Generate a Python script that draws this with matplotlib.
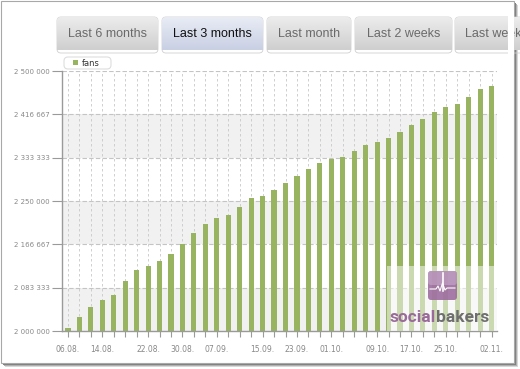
import matplotlib.pyplot as plt
import numpy as np
from matplotlib.patches import FancyBboxPatch, Rectangle

# fans per snapshot
fans = [
    2006300, 2027500, 2046700, 2060200, 2069800, 2095600, 2117300, 2125000,
    2134000, 2147500, 2166700, 2187900, 2205800, 2217300, 2223600, 2239000,
    2255200, 2260200, 2271100, 2285200, 2298100, 2311000, 2322500, 2331300,
    2334000, 2346700, 2358300, 2362900, 2371100, 2383300, 2396100, 2407700,
    2421700, 2430200, 2435900, 2449400, 2464800, 2471100,
]
label_idx = [0, 3, 7, 10, 13, 17, 20, 23, 27, 30, 33, 37]
label_text = ['06.08.', '14.08.', '22.08.', '30.08.', '07.09.', '15.09.',
              '23.09.', '01.10.', '09.10.', '17.10.', '25.10.', '02.11.']
y_ticks = [2000000, 2083333, 2166667, 2250000, 2333333, 2416667, 2500000]
tab_names = ['Last 6 months', 'Last 3 months', 'Last month', 'Last 2 weeks', 'Last week']
tab_x = [(57, 158), (162, 263), (267, 351), (355, 452), (455, 530)]
selected_tab = 1

W, H = 520, 369
fig = plt.figure(figsize=(W / 100, H / 100), dpi=100)
fig.patch.set_facecolor('white')

# background layer in pixel coordinates
bg = fig.add_axes([0, 0, 1, 1])
bg.set_xlim(0, W)
bg.set_ylim(H, 0)
bg.axis('off')

# screenshot frame with a drop shadow
for off, col in [(4, '#d8d8d8'), (3, '#b0b0b0'), (2, '#808080')]:
    bg.add_patch(Rectangle((1 + off, 1 + off), 513, 362, fc=col, ec='none'))
bg.add_patch(Rectangle((1, 1), 513, 362, fc='white', ec='#a8a8a8', lw=0.8))

# tabs
for i, (name, (x0, x1)) in enumerate(zip(tab_names, tab_x)):
    sel = i == selected_tab
    top, bot = ('#e9ecf5', '#c9d0e4') if sel else ('#ececec', '#cfcfcf')
    patch = FancyBboxPatch((x0, 17), x1 - x0, 36, boxstyle='round,pad=0,rounding_size=4',
                           fc='none', ec='#d0d0d0', lw=0.6)
    bg.add_patch(patch)
    c0 = np.array(plt.matplotlib.colors.to_rgb(top))
    c1 = np.array(plt.matplotlib.colors.to_rgb(bot))
    t = np.linspace(0, 1, 40)[:, None]
    grad = (c0 * (1 - t) + c1 * t)[:, None, :]
    im = bg.imshow(grad, extent=(x0, x1, 50, 17), aspect='auto', zorder=1)
    im.set_clip_path(patch)
    bg.text((x0 + x1) / 2 if i < 4 else x0 + 10, 34, name,
            ha='center' if i < 4 else 'left', va='center',
            fontsize=9, family='Liberation Sans',
            color='#111111' if sel else '#6a6a6a', zorder=3)
# clip the last tab at the panel edge
bg.add_patch(Rectangle((508, 10), 5.5, 45, fc='white', ec='none', zorder=4))

# legend
bg.add_patch(FancyBboxPatch((64, 57), 47, 12, boxstyle='round,pad=0,rounding_size=4',
                            fc='white', ec='#dddddd', lw=0.8, zorder=3))
bg.add_patch(Rectangle((73, 60), 5, 5, fc='#98b461', ec='none', zorder=4))
bg.text(82, 63, 'fans', fontsize=6, color='#333333', va='center', ha='left', zorder=4)

# chart
ax = fig.add_axes([62 / W, 38 / H, 435 / W, 260 / H])
ax.set_facecolor('none')
x = np.arange(len(fans))
for lo, hi in zip(y_ticks[0::2], y_ticks[1::2]):
    ax.axhspan(lo, hi, color='#f1f1f1', zorder=0, lw=0)
for v in y_ticks[1:]:
    ax.axhline(v, color='#c4c4c4', lw=0.8, dashes=(4, 2), zorder=1)
for xi in x:
    ax.axvline(xi, color='#c8c8c8', lw=0.6, dashes=(3, 3), zorder=1)
ax.bar(x, fans, width=0.45, color='#98b461', zorder=2)
ax.set_xlim(-0.52, len(fans) - 0.53)
ax.set_ylim(y_ticks[0], y_ticks[-1])
ax.set_yticks(y_ticks)
ax.set_yticklabels([f'{v:,}'.replace(',', ' ') for v in y_ticks])
labels = [''] * len(fans)
for i, t in zip(label_idx, label_text):
    labels[i] = t
ax.set_xticks(x)
ax.set_xticklabels(labels)
for s in ['top', 'right']:
    ax.spines[s].set_visible(False)
for s in ['left', 'bottom']:
    ax.spines[s].set_color('#9a9a9a')
    ax.spines[s].set_linewidth(1)
ax.tick_params(axis='y', length=7, width=0.8, color='#9a9a9a', labelsize=5,
               labelcolor='#888888', pad=2)
ax.tick_params(axis='x', length=4, width=0.8, color='#9a9a9a', labelsize=5.5,
               labelcolor='#888888', pad=6)

# watermark overlay
ov = fig.add_axes([0, 0, 1, 1])
ov.set_xlim(0, W)
ov.set_ylim(H, 0)
ov.axis('off')
ov.patch.set_alpha(0)
ov.add_patch(Rectangle((387, 266), 110, 65, fc='white', ec='none', alpha=0.5))
ov.add_patch(FancyBboxPatch((428, 271), 29, 29, boxstyle='round,pad=0,rounding_size=3',
                            fc='#9d6d9f', ec='none', alpha=0.9))
ov.add_patch(FancyBboxPatch((428, 271), 29, 14, boxstyle='round,pad=0,rounding_size=3',
                            fc='#c7a9c8', ec='none', alpha=0.6))
ov.plot([442.5, 442.5], [273, 291], color='white', lw=1.2)
ov.plot([430, 436, 438, 440, 442.5, 445, 447, 455],
        [289, 289, 286, 291, 283, 290, 288, 288], color='white', lw=0.8)
logo_font = ['Roboto', 'DejaVu Sans']
t1 = ov.text(390, 322, 'social', fontsize=12.5, fontweight='bold',
             family=logo_font, color='#9a6a9a', ha='left', va='baseline')
ov.annotate('bakers', xy=(1, 0), xycoords=t1, ha='left', va='bottom', fontsize=12.5,
            fontweight='bold', family=logo_font, color='#6f6f6f')

fig.savefig('out.png', dpi=100)
